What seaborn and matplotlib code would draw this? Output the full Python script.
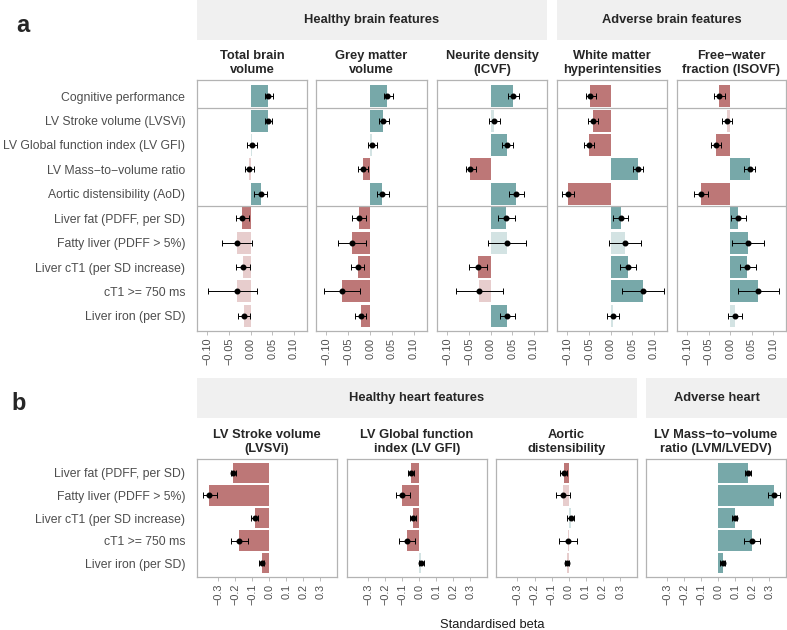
import numpy as np
import pandas as pd
import matplotlib.pyplot as plt
import seaborn as sns

sns.set_theme(style="white")
plt.rcParams['font.family'] = ['Liberation Sans', 'DejaVu Sans']

# row labels (top to bottom)
rows_a = ["Cognitive performance", "LV Stroke volume (LVSVi)", "LV Global function index (LV GFI)",
          "LV Mass\u2212to\u2212volume ratio", "Aortic distensibility (AoD)", "Liver fat (PDFF, per SD)",
          "Fatty liver (PDFF > 5%)", "Liver cT1 (per SD increase)", "cT1 >= 750 ms", "Liver iron (per SD)"]
rows_b = ["Liver fat (PDFF, per SD)", "Fatty liver (PDFF > 5%)", "Liver cT1 (per SD increase)",
          "cT1 >= 750 ms", "Liver iron (per SD)"]

# panel a - brain features
tbv_beta = [0.041, 0.039, 0.004, -0.003, 0.023, -0.019, -0.032, -0.018, -0.032, -0.015]
tbv_lo = [0.033, 0.032, -0.008, -0.013, 0.008, -0.035, -0.067, -0.035, -0.098, -0.029]
tbv_hi = [0.052, 0.050, 0.015, 0.008, 0.037, -0.003, 0.004, -0.002, 0.015, -0.002]
tbv_sig = [1, 1, 0, 0, 1, 1, 0, 0, 0, 0]

gmv_beta = [0.038, 0.030, 0.005, -0.016, 0.028, -0.026, -0.042, -0.029, -0.064, -0.022]
gmv_lo = [0.031, 0.021, -0.004, -0.027, 0.015, -0.041, -0.073, -0.045, -0.105, -0.035]
gmv_hi = [0.052, 0.042, 0.015, -0.006, 0.042, -0.010, -0.010, -0.014, -0.024, -0.010]
gmv_sig = [1, 1, 0, 1, 1, 1, 1, 1, 1, 1]

icvf_beta = [0.052, 0.008, 0.038, -0.047, 0.059, 0.035, 0.038, -0.029, -0.026, 0.038]
icvf_lo = [0.040, -0.005, 0.026, -0.058, 0.042, 0.016, -0.007, -0.051, -0.080, 0.021]
icvf_hi = [0.065, 0.021, 0.052, -0.033, 0.076, 0.055, 0.081, -0.008, 0.028, 0.055]
icvf_sig = [1, 0, 1, 1, 1, 1, 0, 1, 0, 1]

wmh_beta = [-0.047, -0.041, -0.049, 0.063, -0.098, 0.023, 0.033, 0.040, 0.074, 0.005]
wmh_lo = [-0.058, -0.052, -0.061, 0.052, -0.113, 0.006, -0.004, 0.022, 0.027, -0.009]
wmh_hi = [-0.035, -0.030, -0.038, 0.075, -0.084, 0.040, 0.070, 0.058, 0.122, 0.020]
wmh_sig = [1, 1, 1, 1, 1, 1, 0, 1, 1, 0]

isovf_beta = [-0.025, -0.008, -0.033, 0.045, -0.068, 0.018, 0.041, 0.039, 0.065, 0.012]
isovf_lo = [-0.037, -0.019, -0.045, 0.033, -0.084, 0.001, 0.004, 0.022, 0.017, -0.004]
isovf_hi = [-0.013, 0.004, -0.022, 0.058, -0.051, 0.037, 0.079, 0.059, 0.114, 0.027]
isovf_sig = [1, 0, 1, 1, 1, 1, 1, 1, 1, 0]

# panel b - heart features
lvsv_beta = [-0.212, -0.353, -0.084, -0.176, -0.045]
lvsv_lo = [-0.227, -0.392, -0.108, -0.225, -0.061]
lvsv_hi = [-0.196, -0.310, -0.065, -0.124, -0.029]
lvsv_sig = [1, 1, 1, 1, 1]

gfi_beta = [-0.047, -0.100, -0.037, -0.073, 0.012]
gfi_lo = [-0.069, -0.137, -0.055, -0.118, -0.002]
gfi_hi = [-0.029, -0.057, -0.022, -0.025, 0.027]
gfi_sig = [1, 1, 1, 1, 0]

aod_beta = [-0.029, -0.035, 0.010, -0.006, -0.012]
aod_lo = [-0.049, -0.075, -0.010, -0.055, -0.025]
aod_hi = [-0.010, 0.006, 0.031, 0.047, 0.002]
aod_sig = [1, 0, 0, 0, 0]

lvm_beta = [0.175, 0.329, 0.096, 0.198, 0.027]
lvm_lo = [0.159, 0.294, 0.080, 0.153, 0.012]
lvm_hi = [0.190, 0.365, 0.112, 0.245, 0.041]
lvm_sig = [1, 1, 1, 1, 1]

ticks_a = [-0.10, -0.05, 0.0, 0.05, 0.10]
ticklabels_a = ["\u22120.10", "\u22120.05", "0.00", "0.05", "0.10"]
ticks_b = [-0.3, -0.2, -0.1, 0.0, 0.1, 0.2, 0.3]
ticklabels_b = ["\u22120.3", "\u22120.2", "\u22120.1", "0.0", "0.1", "0.2", "0.3"]

palette = {"pos": "#6fb0b1", "pos_ns": "#d0e6e6", "neg": "#c96b6c", "neg_ns": "#ecc8c9"}

W, H = 787, 630
fig = plt.figure(figsize=(7.87, 6.3), dpi=100)


def px_axes(x0, y0, x1, y1):
    # pixel box (top-left origin) -> figure axes
    return fig.add_axes([x0 / W, 1 - y1 / H, (x1 - x0) / W, (y1 - y0) / H])


def strip(x0, y0, x1, y1, text):
    ax = px_axes(x0, y0, x1, y1)
    ax.set_facecolor("#f0f0f0")
    for s in ax.spines.values():
        s.set_visible(False)
    ax.set_xticks([])
    ax.set_yticks([])
    ax.text(0.5, 0.5, text, ha="center", va="center", fontsize=9.3, fontweight="bold",
            transform=ax.transAxes)


def facet(box, title, rows, beta, lo, hi, sig, xlim, ticks, ticklabels, show_rows, seps, ylim):
    ax = px_axes(*box)
    beta = np.array(beta)
    cls = []
    for b, s in zip(beta, sig):
        c = "pos" if b >= 0 else "neg"
        cls.append(c if s else c + "_ns")
    df = pd.DataFrame({"row": rows, "beta": beta, "cls": cls})
    sns.barplot(data=df, x="beta", y="row", hue="cls", palette=palette, dodge=False,
                orient="h", order=rows, width=0.9, legend=False, ax=ax, linewidth=0)
    ax.errorbar(beta, np.arange(len(rows)), xerr=[beta - np.array(lo), np.array(hi) - beta],
                fmt="o", color="black", ms=3.3, elinewidth=0.7, capsize=2.0, capthick=0.7, zorder=4)
    for s in seps:
        ax.axhline(s, color="#b3b3b3", lw=0.9, zorder=1)
    ax.set_xlim(*xlim)
    ax.set_ylim(*ylim)
    ax.set_xticks(ticks)
    ax.set_xticklabels(ticklabels, rotation=90, fontsize=7.8, color="#4d4d4d")
    ax.tick_params(axis="x", bottom=True, length=3, width=0.6, color="#b3b3b3", pad=2)
    if show_rows:
        ax.set_yticks(range(len(rows)))
        ax.set_yticklabels(rows, fontsize=8.85, color="#4d4d4d")
        ax.tick_params(axis="y", left=False, pad=2.5)
    else:
        ax.set_yticks([])
    ax.set_xlabel("")
    ax.set_ylabel("")
    for s in ax.spines.values():
        s.set_color("#b3b3b3")
        s.set_linewidth(0.9)
    ax.set_title(title, fontsize=9.3, fontweight="bold", pad=5, linespacing=1.2)
    return ax


# panel a
xlim_a = (-0.124, 0.130)
ylim_a = (9.62, -0.66)
top_a, bot_a = 80, 331
facets_a = [
    ((197, 307), "Total brain\nvolume", tbv_beta, tbv_lo, tbv_hi, tbv_sig),
    ((316, 427), "Grey matter\nvolume", gmv_beta, gmv_lo, gmv_hi, gmv_sig),
    ((437, 547), "Neurite density\n(ICVF)", icvf_beta, icvf_lo, icvf_hi, icvf_sig),
    ((557, 667), "White matter\nhyperintensities", wmh_beta, wmh_lo, wmh_hi, wmh_sig),
    ((677, 786), "Free\u2212water\nfraction (ISOVF)", isovf_beta, isovf_lo, isovf_hi, isovf_sig),
]
for i, ((x0, x1), title, b, lo, hi, sg) in enumerate(facets_a):
    facet((x0, top_a, x1, bot_a), title, rows_a, b, lo, hi, sg, xlim_a, ticks_a, ticklabels_a,
          i == 0, [0.5, 4.5], ylim_a)

strip(197, 0, 547, 40, "Healthy brain features")
strip(557, 0, 787, 40, "Adverse brain features")

# panel b
xlim_b = (-0.425, 0.398)
ylim_b = (4.62, -0.62)
top_b, bot_b = 459, 577
facets_b = [
    ((197, 337), "LV Stroke volume\n(LVSVi)", lvsv_beta, lvsv_lo, lvsv_hi, lvsv_sig),
    ((347, 487), "LV Global function\nindex (LV GFI)", gfi_beta, gfi_lo, gfi_hi, gfi_sig),
    ((496, 637), "Aortic\ndistensibility", aod_beta, aod_lo, aod_hi, aod_sig),
    ((646, 786), "LV Mass\u2212to\u2212volume\nratio (LVM/LVEDV)", lvm_beta, lvm_lo, lvm_hi, lvm_sig),
]
for i, ((x0, x1), title, b, lo, hi, sg) in enumerate(facets_b):
    facet((x0, top_b, x1, bot_b), title, rows_b, b, lo, hi, sg, xlim_b, ticks_b, ticklabels_b,
          i == 0, [], ylim_b)

strip(197, 378, 637, 418, "Healthy heart features")
strip(646, 378, 787, 418, "Adverse heart")

fig.text(492 / W, 1 - 625 / H, "Standardised beta", ha="center", va="center", fontsize=9.3, color="#1a1a1a")
fig.text(23 / W, 1 - 25 / H, "a", ha="center", va="center", fontsize=17, fontweight="bold")
fig.text(19 / W, 1 - 403 / H, "b", ha="center", va="center", fontsize=17, fontweight="bold")

fig.savefig("out.png", dpi=100)
